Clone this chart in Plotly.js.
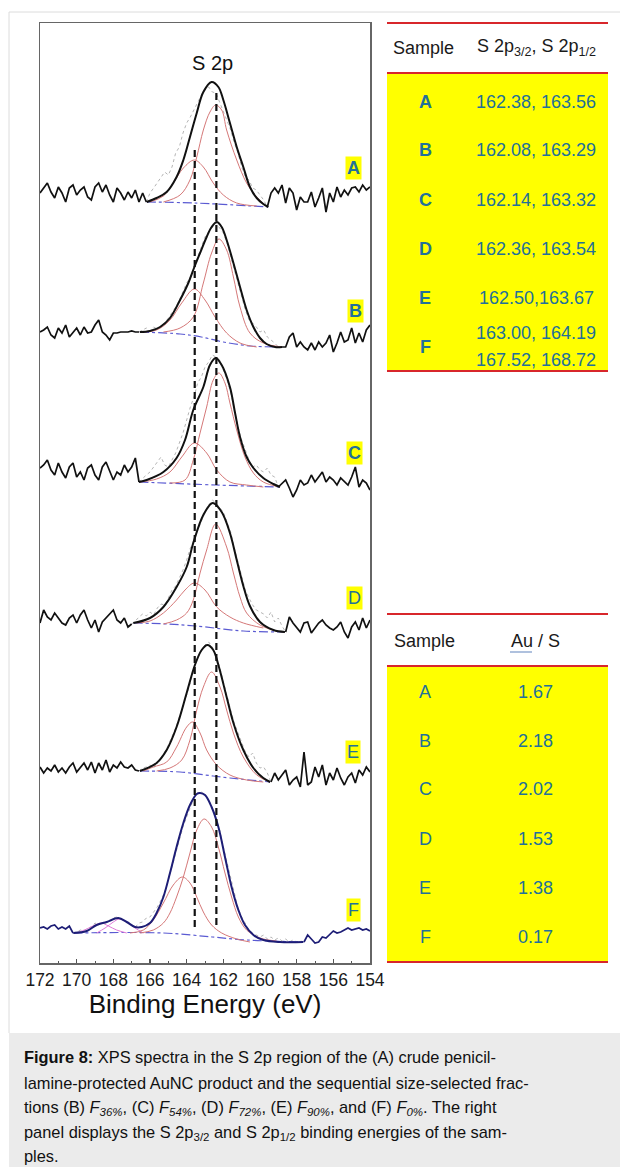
<!DOCTYPE html>
<html><head><meta charset="utf-8">
<script src="https://cdn.plot.ly/plotly-3.0.1.min.js"></script>
<style>html,body{margin:0;padding:0;background:#fff;}#chart{width:620px;height:1167px;}</style>
</head><body><div id="chart"></div>
<script>
// ---------- DATA ----------
const samples = ['A','B','C','D','E','F'];
const energy = [172.0,171.8,171.6,171.4,171.2,171.0,170.8,170.6,170.4,170.2,170.0,169.8,169.6,169.4,169.2,169.0,168.8,168.6,168.4,168.2,168.0,167.8,167.6,167.4,167.2,167.0,166.8,166.6,166.4,166.2,166.0,165.8,165.6,165.4,165.2,165.0,164.8,164.6,164.4,164.2,164.0,163.8,163.6,163.4,163.2,163.0,162.8,162.6,162.4,162.2,162.0,161.8,161.6,161.4,161.2,161.0,160.8,160.6,160.4,160.2,160.0,159.8,159.6,159.4,159.2,159.0,158.8,158.6,158.4,158.2,158.0,157.8,157.6,157.4,157.2,157.0,156.8,156.6,156.4,156.2,156.0,155.8,155.6,155.4,155.2,155.0,154.8,154.6,154.4,154.2,154.0];

const rawA = [770,775,780,771,765,776,770,761,775,778,768,773,776,766,763,776,780,771,778,768,761,775,770,763,771,765,773,761,770,761,
 770,775,780,786,791,788,796,810,816,830,840,846,853,860,868,875,876,871,870,861,851,843,833,820,810,796,786,783,775,773,768,763,
 756,770,775,770,778,760,775,770,753,766,761,761,771,756,765,775,751,770,761,776,766,773,768,775,776,771,778,773,776];
const rawB = [631,633,636,628,625,635,630,638,626,631,635,628,636,630,631,638,643,631,628,623,630,630,631,631,631,632,631,631,
 633,635,632,636,634,637,640,645,650,656,663,671,680,686,696,706,716,726,731,736,740,735,730,720,706,693,680,666,653,643,640,636,631,633,626,623,620,616,
 616,616,626,630,616,621,616,613,620,613,621,616,620,628,611,620,631,621,623,635,620,630,621,633,638];
const rawC = [495,498,503,493,488,500,491,485,496,500,486,491,483,495,498,488,483,496,501,491,483,491,488,498,491,496,505,481,
 485,488,491,496,501,506,498,496,503,510,520,530,543,556,566,580,586,596,601,608,606,603,593,583,570,553,536,523,513,503,496,498,493,491,495,488,486,
 476,
 480,483,475,466,473,483,478,480,488,481,486,491,481,486,483,478,485,481,478,486,496,476,483,480,473];
const rawD = [340,353,346,343,350,345,340,338,345,348,340,348,353,343,335,343,331,341,345,350,353,343,340,345,336,339,
 342,346,349,347,351,348,355,359,358,365,373,377,385,393,403,415,423,433,443,451,458,463,460,455,451,441,431,415,401,388,373,365,358,353,351,349,345,351,341,345,337,
 331,
 346,340,335,331,340,341,330,335,340,343,338,335,333,336,341,331,325,336,341,333,345,335,343];
const rawE = [196,190,195,192,198,191,195,190,196,200,191,196,200,193,201,190,200,193,203,191,198,195,201,196,195,198,193,192,
 195,196,198,195,200,206,211,218,226,235,246,256,268,280,295,305,313,318,321,316,308,296,281,266,253,240,230,220,211,206,210,200,195,196,190,
 181,
 190,183,188,193,178,183,186,176,211,178,181,196,186,198,178,190,183,195,185,178,186,190,180,193,188,196,191];
const rawF = [35,36,34,37,38,34,36,34,37,30,
 31,33,32,35,36,40,38,41,40,43,45,46,44,42,40,38,36,40,41,45,46,51,56,63,71,83,96,111,123,136,146,156,165,170,171,168,163,155,145,133,116,101,85,70,55,46,40,33,30,28,26,28,24,26,23,25,22,24,21,23,21,22,
 21,
 28,24,20,21,26,25,29,32,30,31,33,35,33,34,35,33,34,32];

const fitStart = [166.2,166.6,166.6,167.0,166.6,170.2];
const fitEnd   = [159.6,158.8,159.0,158.6,159.4,157.6];

// fitted envelopes
const envA_E = [166.18,165.64,165.09,164.55,164.18,163.82,163.45,163.09,162.64,162.27,162.0,161.64,161.27,160.91,160.55,160.18,159.82,159.55];
const envA_y = [761,765,771,786,803,826,850,871,881,876,863,840,816,796,776,765,759,756];
const envB_E = [166.55,166.0,165.45,164.91,164.36,163.91,163.6,163.27,162.91,162.64,162.36,162.09,161.82,161.45,161.09,160.73,160.36,160.0,159.64,159.18,158.8];
const envB_y = [631,632,636,645,663,680,695,710,726,736,741,736,723,700,676,653,636,625,619,616,616];
const envC_E = [166.6,166.18,165.27,164.55,164.09,163.64,163.09,162.73,162.42,162.09,161.64,161.36,161.09,160.73,160.36,159.82,159.27,158.91];
const envC_y = [481,483,491,505,523,553,576,598,605,598,576,550,526,506,495,485,479,476];
const envD_E = [166.91,166.0,165.27,164.55,164.0,163.64,163.09,162.58,162.09,161.64,161.27,160.91,160.55,160.0,159.27,158.64];
const envD_y = [340,345,356,376,396,420,448,460,451,430,403,377,357,341,333,331];
const envE_E = [166.55,165.64,165.09,164.55,164.0,163.55,163.18,162.87,162.55,162.27,161.82,161.45,160.91,160.36,159.82,159.45];
const envE_y = [192,200,213,236,270,298,313,318,313,298,266,240,213,195,185,181];
const envF_E = [170.18,169.45,168.91,168.36,167.73,167.27,166.82,166.45,166.0,165.64,165.27,164.91,164.55,164.18,163.82,163.45,163.27,163.0,162.64,162.27,161.91,161.55,161.18,160.82,160.36,159.82,158.91,157.64];
const envF_y = [30,32,38,41,45,41,36,36,40,50,66,90,116,140,158,169,170,168,156,136,106,76,53,38,28,23,21,21];

// S 2p3/2 components
const p32A_E = [165.27,164.36,163.82,163.45,163.09,162.73,162.42,162.09,161.82,161.27,160.73,160.18,159.6];
const p32A_y = [761,768,783,806,833,851,858,853,833,803,780,766,756];
const p32B_E = [165.27,164.36,163.64,163.09,162.64,162.24,161.82,161.45,161.09,160.55,159.82,158.8];
const p32B_y = [631,635,646,680,710,724,713,686,656,630,620,616];
const p32C_E = [164.91,164.09,163.64,163.27,162.91,162.55,162.24,161.91,161.64,161.27,160.82,160.36,159.82,158.91];
const p32C_y = [480,483,503,530,556,583,590,580,560,533,506,490,481,476];
const p32D_E = [165.27,164.55,164.0,163.64,163.27,162.91,162.42,161.82,161.45,161.09,160.73,160.0,159.09,158.64];
const p32D_y = [339,343,350,363,390,413,439,416,390,366,350,338,332,331];
const p32E_E = [165.64,164.91,164.27,163.82,163.45,163.09,162.64,162.18,161.82,161.45,160.91,160.18,159.45];
const p32E_y = [192,195,203,223,253,276,291,276,253,230,206,188,181];
const p32F_E = [166.55,165.82,165.27,164.91,164.55,164.18,163.82,163.45,163.05,162.64,162.27,161.91,161.55,161.18,160.73,160.0,159.09];
const p32F_y = [30,33,40,50,66,86,110,133,144,136,116,90,66,46,33,25,22];

// S 2p1/2 components
const p12A_E = [166.0,165.27,164.73,164.18,163.58,163.09,162.55,162.0,161.27,160.18];
const p12A_y = [761,767,780,795,803,796,780,768,760,757];
const p12B_E = [166.55,165.64,164.91,164.27,163.58,163.0,162.45,161.82,161.09,160.18];
const p12B_y = [631,633,643,660,674,663,646,630,620,616];
const p12C_E = [166.55,165.64,164.91,164.27,163.58,162.91,162.36,161.64,160.73,159.82];
const p12C_y = [481,484,491,506,520,510,493,481,478,476];
const p12D_E = [166.73,166.0,165.27,164.55,164.09,163.58,163.0,162.36,161.64,160.91,159.82];
const p12D_y = [340,342,350,363,373,380,373,356,346,340,335];
const p12E_E = [166.36,165.82,165.09,164.55,164.0,163.67,163.27,162.91,162.36,161.64,160.73,159.82];
const p12E_y = [192,196,201,216,236,241,230,213,198,188,183,181];
const p12F_E = [167.09,166.36,165.82,165.27,164.73,164.24,163.82,163.45,163.09,162.64,162.09,161.27,160.55];
const p12F_y = [30,33,43,60,78,86,80,66,51,38,30,24,21];

// oxidised sulfur components of F
const oxF1_E = [170.0,169.45,169.0,168.64,168.27,167.82,167.27];
const oxF1_y = [30,34,38,40,37,33,30];
const oxF2_E = [168.91,168.45,168.0,167.67,167.27,166.82,166.36];
const oxF2_y = [30,35,41,44,41,35,30];

// backgrounds
const bgA_E = [166.18,163.6,159.55];            const bgA_y = [761,760,756];
const bgB_E = [166.55,164.36,163.2,162.0,160.5,158.8]; const bgB_y = [631,629,626,621,617,616];
const bgC_E = [166.6,162.4,158.91];             const bgC_y = [481,478,476];
const bgD_E = [166.9,165.0,163.5,160.9,158.64]; const bgD_y = [340,339,337,332,331];
const bgE_E = [166.55,164.36,163.0,161.64,159.45]; const bgE_y = [192,191,188,185,181];
const bgF_E = [170.18,165.27,162.6,160.73,157.64]; const bgF_y = [30,30,26,23,21];

// reference dashed lines (sample A binding energies) and their vertical span
const refSpanLow  = [36, 38];
const refSpanHigh = [815, 871];

// tables
const s2p32 = [162.38,162.08,162.14,162.36,162.50,163.00];
const s2p12 = [163.56,163.29,163.32,163.54,163.67,164.19];
const separators = [', ',', ',', ',', ',',',', '];
const oxidisedF = [167.52,168.72];
const auS = [1.67,2.18,2.02,1.53,1.38,0.17];
const tickValues = [172,170,168,166,164,162,160,158,156,154];
const tickLabels = ['172','170','168','166','164','162','160','158','156','154'];
const minorTicks = [171,169,167,165,163,161,159,157,155];
const captionLines = [
 '<b>Figure 8:</b> XPS spectra in the S 2p region of the (A) crude penicil-',
 'lamine-protected AuNC product and the sequential size-selected frac-',
 'tions (B) <i>F<sub>36%</sub></i>, (C) <i>F<sub>54%</sub></i>, (D) <i>F<sub>72%</sub></i>, (E) <i>F<sub>90%</sub></i>, and (F) <i>F<sub>0%</sub></i>. The right',
 'panel displays the S 2p<sub>3/2</sub> and S 2p<sub>1/2</sub> binding energies of the sam-',
 'ples.'
];

// ---------- BUILD ----------
const raws = [rawA,rawB,rawC,rawD,rawE,rawF];
const envs = [[envA_E,envA_y],[envB_E,envB_y],[envC_E,envC_y],[envD_E,envD_y],[envE_E,envE_y],[envF_E,envF_y]];
const p32s = [[p32A_E,p32A_y],[p32B_E,p32B_y],[p32C_E,p32C_y],[p32D_E,p32D_y],[p32E_E,p32E_y],[p32F_E,p32F_y]];
const p12s = [[p12A_E,p12A_y],[p12B_E,p12B_y],[p12C_E,p12C_y],[p12D_E,p12D_y],[p12E_E,p12E_y],[p12F_E,p12F_y]];
const bgs  = [[bgA_E,bgA_y],[bgB_E,bgB_y],[bgC_E,bgC_y],[bgD_E,bgD_y],[bgE_E,bgE_y],[bgF_E,bgF_y]];

const FONT = 'Liberation Sans, Arial, Helvetica, sans-serif';
const RED = '#d57878', BLUE = '#5a5ad2', GRAY = '#b5b5b5', TEAL = '#22709a';
function seg(xs, ys, cond){const x=[],y=[];xs.forEach((e,i)=>{if(cond(e)){x.push(e);y.push(ys[i]);}});return {x,y};}
const eps = 1e-6;
const traces = [];
samples.forEach((s,k)=>{
  const main = (s==='F') ? '#1d1d76' : '#111111';
  const mid = seg(energy, raws[k], e => e <= fitStart[k]+eps && e >= fitEnd[k]-eps);
  traces.push({x:mid.x,y:mid.y,mode:'lines',line:{color:GRAY,width:1,dash:'dot'},hoverinfo:'skip'});
  traces.push({x:bgs[k][0],y:bgs[k][1],mode:'lines',line:{color:BLUE,width:1.2,dash:'dashdot',shape:'spline'},hoverinfo:'skip'});
  if(s==='F'){
    traces.push({x:oxF1_E,y:oxF1_y,mode:'lines',line:{color:'#e07ad8',width:1,shape:'spline'},hoverinfo:'skip'});
    traces.push({x:oxF2_E,y:oxF2_y,mode:'lines',line:{color:'#e07ad8',width:1,shape:'spline'},hoverinfo:'skip'});
  }
  traces.push({x:p12s[k][0],y:p12s[k][1],mode:'lines',line:{color:RED,width:1,shape:'spline'},hoverinfo:'skip'});
  traces.push({x:p32s[k][0],y:p32s[k][1],mode:'lines',line:{color:RED,width:1,shape:'spline'},hoverinfo:'skip'});
  traces.push({x:envs[k][0],y:envs[k][1],mode:'lines',line:{color:main,width:2,shape:'spline'},hoverinfo:'skip'});
  const left = seg(energy, raws[k], e => e >= fitStart[k]-eps);
  const right = seg(energy, raws[k], e => e <= fitEnd[k]+eps);
  traces.push({x:left.x,y:left.y,mode:'lines',line:{color:main,width:1.7},hoverinfo:'skip'});
  traces.push({x:right.x,y:right.y,mode:'lines',line:{color:main,width:1.7},hoverinfo:'skip'});
});
// reference dashed lines at sample A values
[s2p12[0], s2p32[0]].forEach((e,i)=>{
  traces.push({x:[e,e],y:[refSpanLow[i],refSpanHigh[i]],mode:'lines',line:{color:'#111',width:2.2,dash:'7px,4px'},hoverinfo:'skip'});
});

// ---------- LAYOUT ----------
const L=40,R=370,T=23,B=963;
const fx = x => (x-L)/(R-L);
const fy = y => (B-y)/(B-T);
const shapes = [];
const ann = [];
function hline(x0,x1,y,color,w){shapes.push({type:'line',xref:'paper',yref:'paper',x0:fx(x0),x1:fx(x1),y0:fy(y),y1:fy(y),line:{color:color,width:w}});}
function rect(x0,x1,y0,y1,fill){shapes.push({type:'rect',xref:'paper',yref:'paper',x0:fx(x0),x1:fx(x1),y0:fy(y0),y1:fy(y1),fillcolor:fill,line:{width:0},layer:'below'});}
function txt(t,x,y,size,color,xa){ann.push({text:t,xref:'paper',yref:'paper',x:fx(x),y:fy(y),xanchor:xa||'center',yanchor:'middle',showarrow:false,font:{family:FONT,size:size,color:color}});}

// outer frame + caption box
hline(9,620,12,'#dcdcdc',1);
shapes.push({type:'line',xref:'paper',yref:'paper',x0:fx(9),x1:fx(9),y0:fy(12),y1:fy(1033),line:{color:'#dcdcdc',width:1}});
rect(9,620,1033,1167,'#ebebeb');

// Table 1
rect(387,608,73,371,'#ffff00');
hline(387,608,23,'#d8262b',2);
hline(387,608,73,'#d8262b',2);
hline(387,608,371,'#d8262b',2.2);
txt('Sample',423,48,18,'#1a1a1a');
txt('S 2p<sub>3/2</sub>, S 2p<sub>1/2</sub>',536,48,18,'#1a1a1a');
const t1Rows = [102,150,200,249,298,347];
samples.forEach((s,i)=>{
  txt('<b>'+s+'</b>',425,t1Rows[i],18,TEAL);
  if(s==='F'){
    txt(s2p32[i].toFixed(2)+separators[i]+s2p12[i].toFixed(2),536,333,18,TEAL);
    txt(oxidisedF[0].toFixed(2)+', '+oxidisedF[1].toFixed(2),536,360,18,TEAL);
  } else {
    txt(s2p32[i].toFixed(2)+separators[i]+s2p12[i].toFixed(2),536,t1Rows[i],18,TEAL);
  }
});

// Table 2
rect(387,608,666,962,'#ffff00');
hline(387,608,614,'#d8262b',2);
hline(387,608,666,'#d8262b',2);
hline(387,608,962,'#d8262b',2.2);
txt('Sample',424,641,18,'#1a1a1a');
txt('Au / S',535,641,18,'#1a1a1a');
hline(510,532,652,'#7a98c8',1.2);
const t2Rows = [692,741,789,839,888,937];
samples.forEach((s,i)=>{
  txt(s,425,t2Rows[i],18,TEAL);
  txt(auS[i].toFixed(2),535,t2Rows[i],18,TEAL);
});

// plot labels
txt('S 2p',212,63,20,'#111');
const labelPos = [[353,168],[355,311],[354,453],[354,598],[353,752],[353,910]];
samples.forEach((s,i)=>{
  const t = (i<3) ? '<b>'+s+'</b>' : s;
  ann.push({text:t,xref:'paper',yref:'paper',x:fx(labelPos[i][0]),y:fy(labelPos[i][1]),xanchor:'center',yanchor:'middle',showarrow:false,bgcolor:'#ffff00',borderpad:1,font:{family:FONT,size:18,color:TEAL}});
});

// caption
const capY = [1057,1083,1108,1133,1156];
captionLines.forEach((c,i)=>txt(c,22,capY[i],16.4,'#111','left'));

const layout = {
  width:620,height:1167,
  margin:{l:L,r:620-R,t:T,b:1167-B,pad:0},
  paper_bgcolor:'#ffffff',plot_bgcolor:'#ffffff',
  showlegend:false,
  font:{family:FONT,color:'#111'},
  xaxis:{range:[172,154],tickmode:'array',tickvals:tickValues,ticktext:tickLabels,ticks:'inside',ticklen:4,tickwidth:1.2,tickcolor:'#555',
    minor:{tickmode:'array',tickvals:minorTicks,ticks:'inside',ticklen:2.5,tickwidth:1,tickcolor:'#555'},
    showline:true,mirror:true,linecolor:'#666',linewidth:1.5,showgrid:false,zeroline:false,
    tickfont:{family:FONT,size:17.5,color:'#1a1a1a'},
    title:{text:'Binding Energy (eV)',font:{family:FONT,size:26,color:'#111'},standoff:4}},
  yaxis:{range:[0,940],showticklabels:false,ticks:'',showline:true,mirror:true,linecolor:'#666',linewidth:1.5,showgrid:false,zeroline:false},
  shapes:shapes,annotations:ann
};
Plotly.newPlot('chart',traces,layout,{displayModeBar:false,staticPlot:true});
</script></body></html>
